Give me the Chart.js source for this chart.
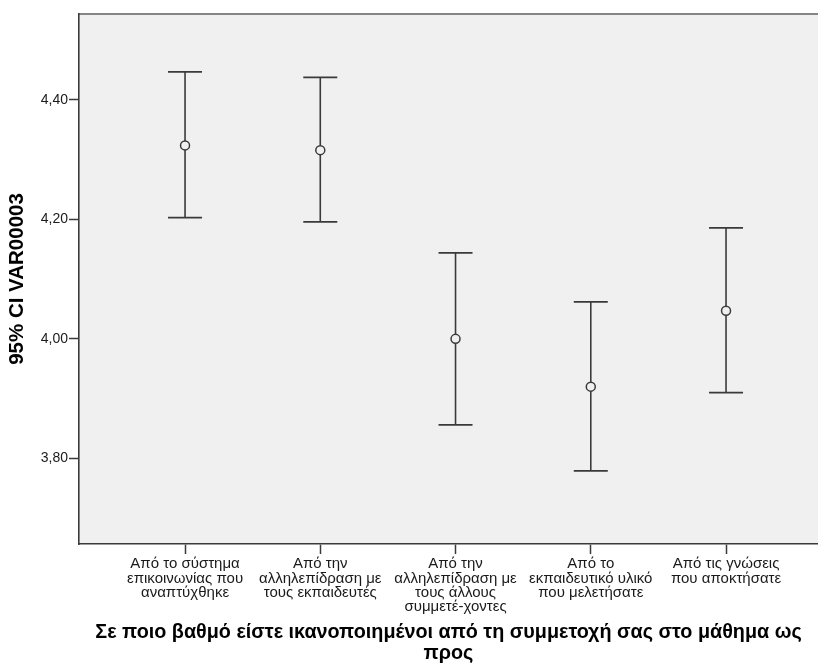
<!DOCTYPE html>
<html>
<head>
<meta charset="utf-8">
<script src="https://cdn.jsdelivr.net/npm/chart.js@4"></script>
<style>
  html, body { margin: 0; padding: 0; background: #fff; overflow: hidden; }
  canvas { display: block; }
</style>
</head>
<body>
<canvas id="ciChart" width="818" height="668"></canvas>
<script>
// categories (multi-line labels as in the original)
const categories = [
    ['Από το σύστημα', 'επικοινωνίας που', 'αναπτύχθηκε'],
    ['Από την', 'αλληλεπίδραση με', 'τους εκπαιδευτές'],
    ['Από την', 'αλληλεπίδραση με', 'τους άλλους', 'συμμετέ-χοντες'],
    ['Από το', 'εκπαιδευτικό υλικό', 'που μελετήσατε'],
    ['Από τις γνώσεις', 'που αποκτήσατε']
];
// mean and 95% CI bounds
const means = [4.324, 4.316, 4.000, 3.920, 4.047];
const upper = [4.447, 4.438, 4.144, 4.062, 4.186];
const lower = [4.203, 4.196, 3.856, 3.779, 3.910];
const yTicks = [3.8, 4.0, 4.2, 4.4];

const yTitle = '95% CI VAR00003';
const xTitle = ['Σε ποιο βαθμό είστε ικανοποιημένοι από τη συμμετοχή σας στο μάθημα ως', 'προς'];

const FONT = "'Liberation Sans', Arial, sans-serif";
const INK = '#3a3a3a';

// plot background + top border
const plotBg = {
    id: 'plotBg',
    beforeDraw(chart) {
        const {ctx, chartArea: a} = chart;
        ctx.save();
        ctx.fillStyle = '#f0f0f0';
        ctx.fillRect(a.left, a.top, a.right - a.left, a.bottom - a.top);
        ctx.strokeStyle = '#858585';
        ctx.lineWidth = 2;
        ctx.beginPath();
        ctx.moveTo(a.left, a.top);
        ctx.lineTo(a.right, a.top);
        ctx.stroke();
        ctx.restore();
    }
};

// one whisker dataset per group (line from lower to upper, caps as 'line' points)
let whiskers = categories.map((c, i) => ({
    type: 'scatter',
    data: [{x: i, y: lower[i]}, {x: i, y: upper[i]}],
    showLine: true,
    borderColor: INK,
    borderWidth: 1.6,
    pointStyle: 'line',
    pointRadius: 17,
    pointBorderColor: INK,
    pointBorderWidth: 1.8
}));

let ctx = document.getElementById('ciChart').getContext('2d');
let ciChart = new Chart(ctx, {
    type: 'scatter',
    data: {
        datasets: [
            {
                data: means.map((m, i) => ({x: i, y: m})),
                pointStyle: 'circle',
                pointRadius: 4.5,
                pointBorderWidth: 1.5,
                pointBorderColor: INK,
                pointBackgroundColor: '#f0f0f0'
            },
            ...whiskers
        ]
    },
    options: {
        responsive: false,
        animation: false,
        devicePixelRatio: 1,
        layout: {
            autoPadding: false, // caps would otherwise push the plot in from the right edge
            padding: { top: 14, right: 0, left: 0, bottom: 0 }
        },
        plugins: {
            legend: { display: false },
            tooltip: { enabled: false }
        },
        scales: {
            x: {
                type: 'linear',
                min: -0.784,
                max: 4.68,
                afterBuildTicks: (scale) => {
                    scale.ticks = categories.map((c, i) => ({value: i}));
                },
                afterFit: (scale) => {
                    scale.height = 124;
                    scale.paddingLeft = 0;
                    scale.paddingRight = 0;
                },
                grid: {
                    display: true,
                    drawOnChartArea: false,
                    drawTicks: true,
                    tickLength: 10,
                    tickWidth: 1.5,
                    tickColor: INK
                },
                border: { display: true, color: INK, width: 1.6 },
                ticks: {
                    autoSkip: false,
                    maxRotation: 0,
                    padding: 3,
                    color: '#1a1a1a',
                    font: { size: 15, family: FONT, lineHeight: '14.3px' },
                    callback: (v) => categories[v]
                },
                title: {
                    display: true,
                    text: xTitle,
                    color: '#000',
                    padding: { top: 0, bottom: 4 },
                    font: { size: 19.8, weight: 'bold', family: FONT, lineHeight: '21px' }
                }
            },
            y: {
                min: 3.6565,
                max: 4.544,
                afterBuildTicks: (scale) => {
                    scale.ticks = yTicks.map(v => ({value: v}));
                },
                afterFit: (scale) => { scale.width = 79; },
                grid: {
                    display: true,
                    drawOnChartArea: false,
                    drawTicks: true,
                    tickLength: 10,
                    tickWidth: 1.5,
                    tickColor: INK
                },
                border: { display: true, color: INK, width: 1.6 },
                ticks: {
                    padding: 1,
                    color: '#1a1a1a',
                    font: { size: 14, family: FONT },
                    callback: (v) => v.toFixed(2).replace('.', ',')
                },
                title: {
                    display: true,
                    text: yTitle,
                    color: '#000',
                    padding: { top: 5, bottom: 0 },
                    font: { size: 20.5, weight: 'bold', family: FONT }
                }
            }
        }
    },
    plugins: [plotBg]
});
</script>
</body>
</html>
